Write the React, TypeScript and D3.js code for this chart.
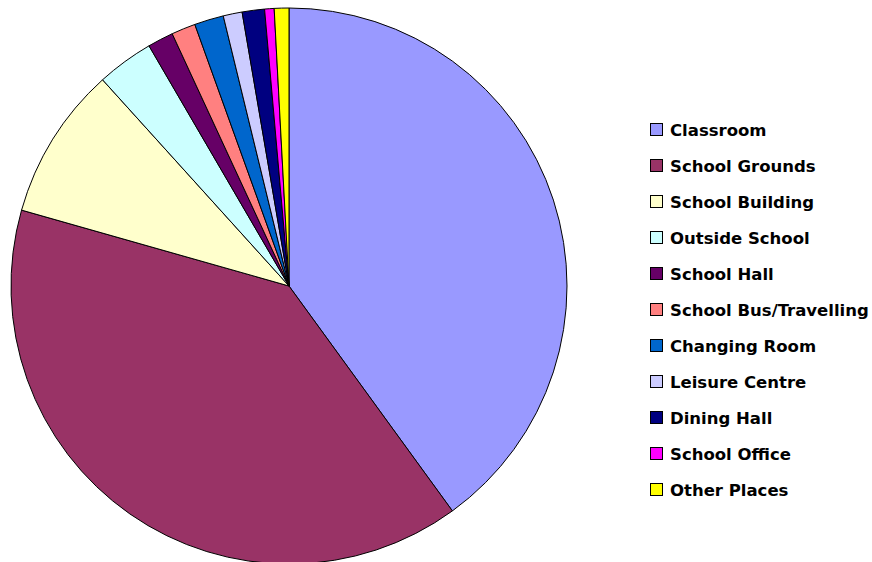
import React from "react";
import * as d3 from "d3";

const categories = [
  "Classroom",
  "School Grounds",
  "School Building",
  "Outside School",
  "School Hall",
  "School Bus/Travelling",
  "Changing Room",
  "Leisure Centre",
  "Dining Hall",
  "School Office",
  "Other Places",
];
const values = [40.0, 39.4, 8.9, 3.3, 1.5, 1.4, 1.7, 1.1, 1.3, 0.55, 0.85];
const colors = [
  "#9999FF",
  "#993366",
  "#FFFFCC",
  "#CCFFFF",
  "#660066",
  "#FF8080",
  "#0066CC",
  "#CCCCFF",
  "#000080",
  "#FF00FF",
  "#FFFF00",
];

const W = 872;
const H = 562;
const cx = 289;
const cy = 286;
const R = 278;

export default function App() {
  const pie = d3.pie<number>().sort(null).value((d) => d);
  const arcs = pie(values);
  const arc = d3.arc<d3.PieArcDatum<number>>().innerRadius(0).outerRadius(R);
  const legendY = d3
    .scalePoint<number>()
    .domain(d3.range(categories.length))
    .range([130, 490]);
  return (
    <svg
      width={W}
      height={H}
      style={{ position: "absolute", left: 0, top: 0, background: "#fff" }}
    >
      <g transform={`translate(${cx},${cy})`}>
        {arcs.map((a, i) => (
          <path
            key={i}
            d={arc(a) || ""}
            fill={colors[i]}
            stroke="#000"
            strokeWidth={1}
          />
        ))}
      </g>
      <g>
        {categories.map((c, i) => {
          const y = legendY(i) as number;
          return (
            <g key={c}>
              <rect
                x={650.5}
                y={y - 6.5}
                width={12}
                height={12}
                fill={colors[i]}
                stroke="#000"
                strokeWidth={1}
              />
              <text
                x={670}
                y={y + 6}
                fontFamily="'Comic Sans MS', 'DejaVu Sans', sans-serif"
                fontWeight="bold"
                fontSize={16.5}
                fill="#000"
              >
                {c}
              </text>
            </g>
          );
        })}
      </g>
    </svg>
  );
}
